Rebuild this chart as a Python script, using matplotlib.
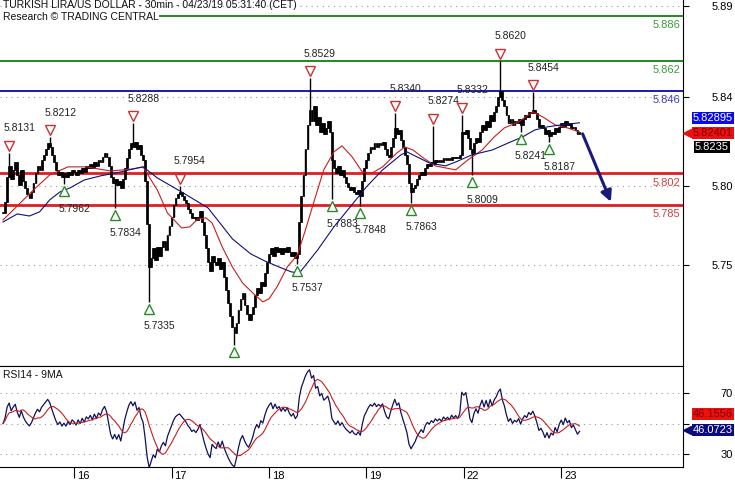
import numpy as np
import pandas as pd
import matplotlib
matplotlib.use("Agg")
import matplotlib.pyplot as plt
from matplotlib.lines import Line2D
from matplotlib.transforms import blended_transform_factory, ScaledTranslation

plt.rcParams['font.family'] = ['Liberation Sans', 'DejaVu Sans']

# 30 min closes, one list per trading day (15th starts at 06:30)
close_15 = [5.781, 5.787, 5.800, 5.806, 5.799, 5.804, 5.808, 5.801, 5.796, 5.804,
            5.798, 5.794, 5.791, 5.789, 5.792, 5.797, 5.802, 5.806, 5.804, 5.809,
            5.812, 5.815, 5.818, 5.816, 5.812, 5.808, 5.804, 5.801, 5.803, 5.800,
            5.802, 5.800, 5.803, 5.801, 5.804]
close_16 = [5.803, 5.801, 5.804, 5.802, 5.805, 5.803, 5.806, 5.805, 5.807, 5.805,
            5.808, 5.806, 5.809, 5.808, 5.811, 5.813, 5.811, 5.806, 5.800, 5.797,
            5.799, 5.796, 5.798, 5.794, 5.799, 5.805, 5.810, 5.815, 5.818, 5.816,
            5.819, 5.815, 5.817, 5.812, 5.809, 5.798, 5.775, 5.752, 5.757, 5.762,
            5.756, 5.763, 5.758, 5.763, 5.766, 5.761, 5.769, 5.774]
close_17 = [5.779, 5.785, 5.789, 5.791, 5.792, 5.790, 5.788, 5.786, 5.783, 5.781,
            5.778, 5.779, 5.777, 5.779, 5.782, 5.776, 5.769, 5.762, 5.755, 5.750,
            5.758, 5.755, 5.753, 5.757, 5.751, 5.755, 5.747, 5.740, 5.733, 5.726,
            5.720, 5.717, 5.722, 5.729, 5.735, 5.738, 5.732, 5.727, 5.724, 5.727,
            5.731, 5.737, 5.741, 5.738, 5.744, 5.742, 5.749, 5.755]
close_18 = [5.759, 5.762, 5.758, 5.763, 5.760, 5.762, 5.759, 5.762, 5.760, 5.763,
            5.760, 5.758, 5.760, 5.757, 5.759, 5.776, 5.790, 5.801, 5.815, 5.828,
            5.836, 5.830, 5.838, 5.828, 5.832, 5.824, 5.829, 5.823, 5.826, 5.830,
            5.824, 5.809, 5.805, 5.802, 5.806, 5.801, 5.804, 5.800, 5.797, 5.795,
            5.793, 5.795, 5.792, 5.791, 5.793, 5.790, 5.798, 5.805]
close_19 = [5.809, 5.813, 5.816, 5.815, 5.818, 5.816, 5.818, 5.817, 5.819, 5.815,
            5.812, 5.811, 5.816, 5.821, 5.826, 5.823, 5.825, 5.820, 5.816, 5.812,
            5.807, 5.797, 5.792, 5.794, 5.796, 5.799, 5.801, 5.803, 5.801, 5.805,
            5.807, 5.806, 5.808, 5.807, 5.809, 5.808, 5.809, 5.808, 5.810, 5.809,
            5.810, 5.809, 5.811, 5.810, 5.811, 5.810, 5.812, 5.824]
close_22 = [5.823, 5.825, 5.821, 5.815, 5.813, 5.818, 5.821, 5.819, 5.824, 5.828,
            5.825, 5.830, 5.827, 5.833, 5.830, 5.835, 5.838, 5.843, 5.846, 5.841,
            5.838, 5.833, 5.829, 5.831, 5.828, 5.830, 5.829, 5.831, 5.828, 5.831,
            5.833, 5.832, 5.835, 5.834, 5.836, 5.834, 5.831, 5.827, 5.828, 5.826,
            5.823, 5.825, 5.822, 5.824, 5.823, 5.826, 5.824, 5.827]
close_23 = [5.829, 5.827, 5.830, 5.828, 5.829, 5.826, 5.827, 5.825, 5.823, 5.824]

# swing points (bar index, price)
high_idx = [3, 23, 64, 87, 151, 193, 212, 226, 245, 261]
high_val = [5.8131, 5.8212, 5.8288, 5.7954, 5.8529, 5.8340, 5.8274, 5.8332, 5.8620, 5.8454]
low_idx = [30, 55, 72, 114, 145, 162, 176, 201, 231, 255, 269]
low_val = [5.7962, 5.7834, 5.7335, 5.7105, 5.7537, 5.7883, 5.7848, 5.7863, 5.8009, 5.8241, 5.8187]
low_lbl = ["5.7962", "5.7834", "5.7335", "", "5.7537", "5.7883", "5.7848", "5.7863",
           "5.8009", "5.8241", "5.8187"]

# moving averages
ma_slow_idx = [0, 7, 13, 18, 23, 28, 33, 40, 48, 58, 64, 69, 76, 88, 101, 113, 122, 129,
               136, 142, 146, 155, 163, 171, 179, 187, 196, 199, 204, 210, 218, 223, 231,
               241, 249, 256, 262, 268, 275, 284]
ma_slow_val = [5.7761, 5.7804, 5.7793, 5.7815, 5.7879, 5.7921, 5.7943, 5.7985, 5.8007,
               5.8028, 5.8044, 5.8055, 5.7996, 5.7921, 5.7836, 5.7671, 5.7591, 5.7553,
               5.7521, 5.7495, 5.7489, 5.7612, 5.7735, 5.7841, 5.7948, 5.8039, 5.8119,
               5.8135, 5.8108, 5.8076, 5.8060, 5.8081, 5.8119, 5.8145, 5.8183, 5.8215,
               5.8252, 5.8268, 5.8279, 5.8290]
ma_fast_idx = [0, 5, 10, 15, 23, 32, 41, 53, 64, 69, 72, 76, 81, 88, 92, 96, 100, 103,
               108, 113, 118, 123, 128, 131, 135, 140, 145, 149, 153, 158, 163, 167, 172,
               177, 182, 187, 194, 198, 202, 207, 213, 223, 229, 236, 242, 247, 254, 261,
               266, 272, 278, 284]
ma_fast_val = [5.7772, 5.7825, 5.7879, 5.7932, 5.8012, 5.8055, 5.8055, 5.8033, 5.8044,
               5.8055, 5.8001, 5.7932, 5.7809, 5.7729, 5.7735, 5.7777, 5.7783, 5.7756,
               5.7628, 5.7521, 5.7436, 5.7383, 5.7335, 5.7351, 5.7415, 5.7521, 5.7585,
               5.7719, 5.7863, 5.8039, 5.8135, 5.8167, 5.8108, 5.8028, 5.8023, 5.8055,
               5.8129, 5.8161, 5.8145, 5.8103, 5.8060, 5.8039, 5.8092, 5.8145, 5.8215,
               5.8263, 5.8295, 5.8348, 5.8321, 5.8279, 5.8263, 5.8241]

levels = [5.886, 5.862, 5.846, 5.802, 5.785]
level_colors = ['#1f8a1f', '#1f8a1f', '#1a1aa6', '#dd1f1f', '#dd1f1f']
level_text_colors = ['#3c9a3c', '#3c9a3c', '#3a3ab0', '#d04040', '#d04040']

day_idx = [35, 83, 131, 179, 227, 275]
day_lbl = ['16', '17', '18', '19', '22', '23']
price_ticks = [5.8913, 5.8428, 5.7953, 5.7532]
price_tick_lbl = ['5.89', '5.84', '5.80', '5.75']
rsi_ticks = [70, 50, 30]

target_from, target_to = (285, 5.8245), (300, 5.7855)

closes = pd.Series(close_15 + close_16 + close_17 + close_18 + close_19 + close_22 + close_23)
idx = np.arange(len(closes))
opens = closes.shift(1).fillna(closes.iloc[0])
highs = np.maximum(opens, closes).values.copy()
lows = np.minimum(opens, closes).values.copy()
highs[high_idx] = high_val
lows[low_idx] = low_val

# RSI14 (Wilder) and its 9 bar average; start both averages level
delta = closes.diff().fillna(0)
seed = delta.abs().iloc[1:15].mean() / 2
gain = delta.clip(lower=0)
loss = (-delta).clip(lower=0)
gain.iloc[0] = seed
loss.iloc[0] = seed
avg_gain = gain.ewm(alpha=1 / 14, adjust=False).mean()
avg_loss = loss.ewm(alpha=1 / 14, adjust=False).mean()
rsi = 100 - 100 / (1 + avg_gain / avg_loss)
rsi_ma = rsi.rolling(9, min_periods=1).mean()

fig = plt.figure(figsize=(7.35, 4.80), dpi=100)
ax = fig.add_axes([0, 1 - 366 / 480, 683 / 735, 366 / 480])
ax2 = fig.add_axes([0, 1 - 467 / 480, 683 / 735, 101 / 480], sharex=ax)

# candles
body_lo = np.minimum(opens, closes)
body_h = np.maximum((closes - opens).abs(), 0.0004)
ax.vlines(idx, lows, highs, color='black', lw=1.0, zorder=3)
ax.bar(idx, body_h, bottom=body_lo, width=0.9, color='black',
       edgecolor='black', linewidth=0.5, zorder=4)

ax.plot(ma_fast_idx, ma_fast_val, color='#c81e1e', lw=0.8, zorder=5)
ax.plot(ma_slow_idx, ma_slow_val, color='#10107a', lw=0.8, zorder=5)

for i, (lv, c, tc) in enumerate(zip(levels, level_colors, level_text_colors)):
    lw = 2.0 if lv < 5.81 else 1.4
    xmin = 0.234 if i == 0 else 0.0
    ax.axhline(lv, xmin=xmin, color=c, lw=lw, zorder=2)
    ax.annotate(f"{lv:.3f}", xy=(0.996, lv), xycoords=('axes fraction', 'data'),
                xytext=(0, -3), textcoords='offset points', ha='right', va='top',
                color=tc, fontsize=8)

up_shift = ax.transData + ScaledTranslation(0, 7 / 100, fig.dpi_scale_trans)
down_shift = ax.transData + ScaledTranslation(0, -7 / 100, fig.dpi_scale_trans)

for i, v in zip(high_idx, high_val):
    ax.plot(i, v, marker='v', ms=7, mfc='white', mec='#c83232', mew=1.0, ls='none',
            transform=up_shift, zorder=6)
    ax.annotate(f"{v:.4f}", xy=(i, v), xytext=(-4, 14), textcoords='offset points',
                ha='left', va='bottom', fontsize=7.5, color='#222222', clip_on=True)

for i, v, lbl in zip(low_idx, low_val, low_lbl):
    ax.plot(i, v, marker='^', ms=7, mfc='white', mec='#2a8a2a', mew=1.0, ls='none',
            transform=down_shift, zorder=6)
    if lbl:
        ax.annotate(lbl, xy=(i, v), xytext=(-4, -14), textcoords='offset points',
                    ha='left', va='top', fontsize=7.5, color='#222222', clip_on=True)

ax.annotate('', xy=target_to, xytext=target_from,
            arrowprops=dict(arrowstyle='-|>', color='#1a1a7a', lw=2.2, mutation_scale=16),
            zorder=7)

ax.set_xlim(-1.5, 335)
ax.set_ylim(5.6993, 5.8945)
ax.set_yticks(price_ticks)
ax.set_yticklabels(price_tick_lbl)
ax.yaxis.grid(True, ls=(0, (1, 4)), color='#999999', lw=0.8)
ax.tick_params(axis='y', left=False, labelleft=False, right=True, labelright=True,
               length=4, pad=32, labelsize=8)
for t in ax.get_yticklabels():
    t.set_horizontalalignment('right')
ax.tick_params(axis='x', bottom=False, labelbottom=False)
for s in ['left', 'top']:
    ax.spines[s].set_visible(False)

ax.text(0.004, 0.999, "TURKISH LIRA/US DOLLAR - 30min - 04/23/19 05:31:40 (CET)\n"
        "Research \u00a9 TRADING CENTRAL", transform=ax.transAxes, ha='left', va='top',
        fontsize=7.5, linespacing=1.15, color='#111111')

# RSI panel
ax2.plot(idx, rsi, color='#10105a', lw=0.9)
ax2.plot(idx, rsi_ma, color='#c81e1e', lw=0.8)
ax2.set_ylim(21.5, 87.7)
ax2.set_yticks(rsi_ticks)
ax2.set_yticklabels(['70', '', '30'])
ax2.yaxis.grid(True, ls=(0, (1, 4)), color='#999999', lw=0.8)
ax2.tick_params(axis='y', left=False, labelleft=False, right=True, labelright=True,
                length=4, pad=32, labelsize=8)
for t in ax2.get_yticklabels():
    t.set_horizontalalignment('right')
ax2.spines['left'].set_visible(False)
ax2.set_xticks(day_idx)
ax2.set_xticklabels([])
ax2.tick_params(axis='x', direction='out', length=8, width=0.8)
tr = blended_transform_factory(ax2.transData, ax2.transAxes)
for i, lbl in zip(day_idx, day_lbl):
    ax2.text(i + 1.5, -0.04, lbl, transform=tr, ha='left', va='top', fontsize=8)
ax2.text(0.004, 0.96, "RSI14 - 9MA", transform=ax2.transAxes, ha='left', va='top',
         fontsize=7.5, color='#111111')


# value boxes on the price scale
def tag(x, y, s, fc, tc, pointer=False):
    fig.text(x / 735, 1 - y / 480, s, ha='center', va='center', fontsize=8, color=tc,
             bbox=dict(boxstyle='square,pad=0.12', fc=fc, ec='none'))
    if pointer:
        fig.add_artist(Line2D([687 / 735], [1 - y / 480], marker='<', ms=6, color=fc,
                              transform=fig.transFigure))


tag(713, 118, '5.82895', '#0a0aee', 'white')
tag(713, 133, '5.82401', '#ee1010', '#7a0000', pointer=True)
tag(712, 147, '5.8235', 'black', 'white')
tag(713, 414, '46.1556', '#ee1010', '#7a0000')
tag(713, 430, '46.0723', '#0a0a80', 'white', pointer=True)

fig.savefig('out.png', dpi=100)
